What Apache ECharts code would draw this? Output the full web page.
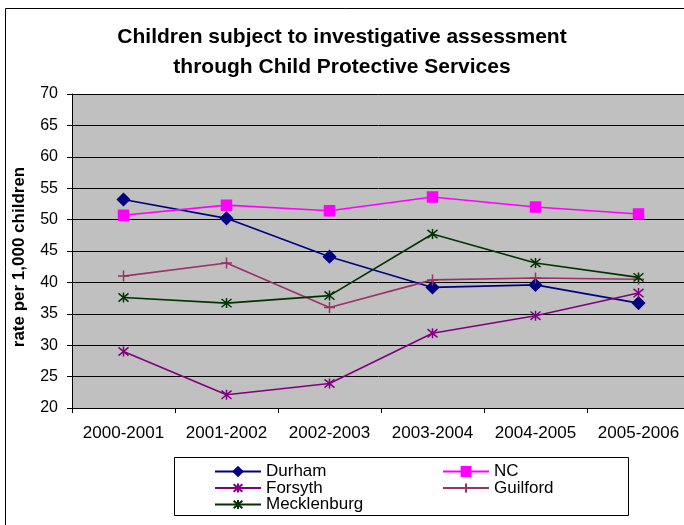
<!DOCTYPE html>
<html>
<head>
<meta charset="utf-8">
<script src="https://cdn.jsdelivr.net/npm/echarts@6/dist/echarts.min.js"></script>
<style>
  html, body { margin: 0; padding: 0; background: #fff; }
  #chart { width: 684px; height: 525px; }
</style>
</head>
<body>
<div id="chart"></div>
<script>
// School years on the category axis
const years = ['2000-2001', '2001-2002', '2002-2003', '2003-2004', '2004-2005', '2005-2006'];

// Rate of children assessed, per 1,000 children
const durham      = [53.2, 50.2, 44.1, 39.2, 39.6, 36.7];
const nc          = [50.7, 52.3, 51.4, 53.6, 52.0, 50.9];
const forsyth     = [29.0, 22.1, 23.9, 31.9, 34.7, 38.3];
const guilford    = [41.0, 43.1, 36.0, 40.4, 40.7, 40.5];
const mecklenburg = [37.6, 36.7, 37.9, 47.7, 43.1, 40.8];

// Value axis range
const yMin = 20, yMax = 70, yStep = 5;

const FONT = '"Liberation Sans", Arial, sans-serif';

// Stroke-only marker shapes
const STAR = 'path://M0,0L10,10M10,0L0,10M5,-1L5,11';
const PLUS = 'path://M5,0L5,10M0,5L10,5';

function mk(name, data, color, symbol, size) {
  return {
    name: name,
    type: 'line',
    data: data,
    symbol: symbol,
    symbolSize: size,
    showAllSymbol: true,
    lineStyle: { color: color, width: 1.6 },
    itemStyle: { color: color, borderColor: color, borderWidth: 1.5 },
    emphasis: { disabled: true },
    animation: false,
    z: 3
  };
}

const chart = echarts.init(document.getElementById('chart'), null, { renderer: 'canvas' });

const legendCommon = {
  orient: 'vertical',
  top: 463,
  height: 80,
  padding: 0,
  itemWidth: 46,
  itemHeight: 11,
  itemGap: -0.5,
  textStyle: { fontFamily: FONT, fontSize: 17, color: '#000', lineHeight: 14 },
  selectedMode: false
};

chart.setOption({
  backgroundColor: '#ffffff',
  animation: false,
  title: {
    text: 'Children subject to investigative assessment\nthrough Child Protective Services',
    left: 'center',
    top: 22,
    padding: 0,
    textStyle: { fontFamily: FONT, fontSize: 21, fontWeight: 'bold', color: '#000', lineHeight: 30 }
  },
  graphic: [
    { type: 'rect', shape: { x: 5.5, y: 8.5, width: 700, height: 540 },
      style: { fill: null, stroke: '#000', lineWidth: 1 }, z: -10 },
    { type: 'rect', shape: { x: 174.5, y: 457.5, width: 454, height: 58 },
      style: { fill: '#fff', stroke: '#000', lineWidth: 1 }, z: -5 }
  ],
  legend: [
    Object.assign({ left: 214, data: ['Durham', 'Forsyth', 'Mecklenburg'] }, legendCommon),
    Object.assign({ left: 442, data: ['NC', 'Guilford'] }, legendCommon)
  ],
  grid: {
    left: 72, top: 94, width: 618, height: 314,
    outerBoundsMode: 'none',
    containLabel: false,
    show: true, backgroundColor: '#C0C0C0', borderWidth: 0
  },
  xAxis: {
    type: 'category',
    data: years,
    boundaryGap: true,
    axisLine: { lineStyle: { color: '#000', width: 1 } },
    axisTick: { show: true, length: 5, interval: 0, lineStyle: { color: '#000' } },
    axisLabel: { fontFamily: FONT, fontSize: 17, color: '#000', margin: 17, interval: 0, hideOverlap: false },
    splitLine: { show: false }
  },
  yAxis: {
    type: 'value',
    min: yMin, max: yMax, interval: yStep,
    name: 'rate per 1,000 children',
    nameLocation: 'middle',
    nameGap: 44,
    nameRotate: 90,
    nameTextStyle: { fontFamily: FONT, fontSize: 17, fontWeight: 'bold', color: '#000', padding: [0, 12, 0, 0] },
    axisLine: { show: true, lineStyle: { color: '#000', width: 1 } },
    axisTick: { show: true, length: 5, lineStyle: { color: '#000' } },
    axisLabel: { fontFamily: FONT, fontSize: 16, color: '#000', margin: 14 },
    splitLine: { show: true, lineStyle: { color: '#000', width: 1 } }
  },
  series: [
    mk('Durham', durham, '#000080', 'diamond', 12),
    mk('NC', nc, '#FF00FF', 'rect', 10),
    mk('Forsyth', forsyth, '#800080', STAR, 10),
    mk('Guilford', guilford, '#993366', PLUS, 11),
    mk('Mecklenburg', mecklenburg, '#003300', STAR, 10)
  ]
});
</script>
</body>
</html>
